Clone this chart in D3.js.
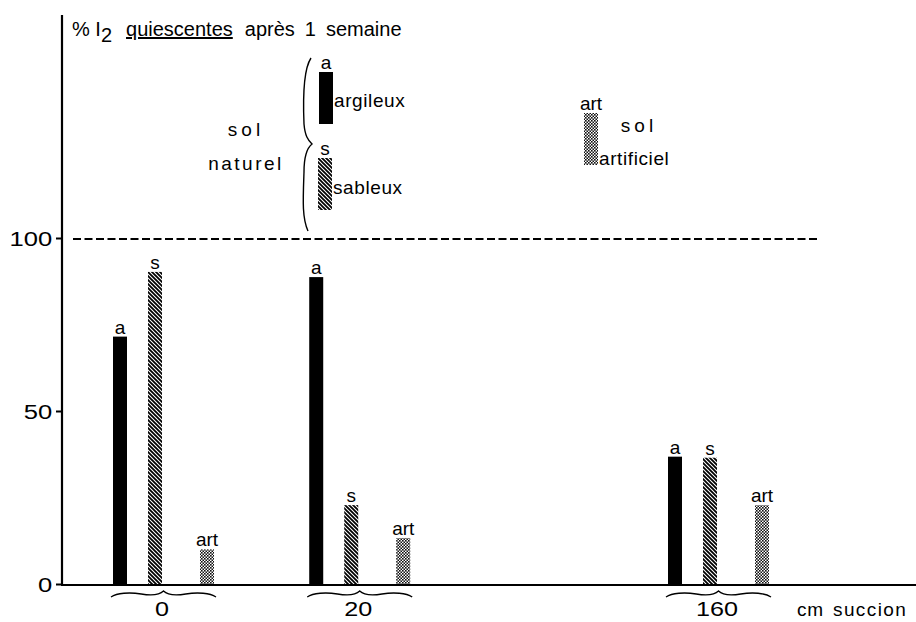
<!DOCTYPE html>
<html>
<head>
<meta charset="utf-8">
<script src="https://cdn.jsdelivr.net/npm/d3@7/dist/d3.min.js"></script>
<style>
  html, body { margin: 0; padding: 0; background: #fff; }
  svg { display: block; }
  text { font-family: "Liberation Sans", Arial, "DejaVu Sans", sans-serif; fill: #000; }
</style>
</head>
<body>
<svg id="chart" width="916" height="622"></svg>
<script>
// Suction levels (cm) and share of quiescent I2 after one week (%)
const succion = [0, 20, 160];
const succionLabels = ["0", "20", "160"];
const argileux = [71.5, 88.7, 36.8];
const sableux = [90.2, 22.8, 36.5];
const artificiel = [10.0, 13.3, 22.8];
const seriesKeys = ["a", "s", "art"];
const yTicks = [0, 50, 100];

const svg = d3.select("#chart");
const W = 916;

// Fill patterns: solid, diagonal hatch, fine checker
const defs = svg.append("defs");
const hatch = defs.append("pattern")
  .attr("id", "hatch").attr("patternUnits", "userSpaceOnUse")
  .attr("width", 4).attr("height", 4);
hatch.append("rect").attr("width", 4).attr("height", 4).attr("fill", "#fff");
hatch.append("path")
  .attr("d", "M-1,-1 L5,5 M-1,3 L1,5 M3,-1 L5,1")
  .attr("stroke", "#000").attr("stroke-width", 1.8);

const checker = defs.append("pattern")
  .attr("id", "checker").attr("patternUnits", "userSpaceOnUse")
  .attr("width", 3).attr("height", 3);
checker.append("rect").attr("width", 3).attr("height", 3).attr("fill", "#fff");
checker.append("rect").attr("width", 1.6).attr("height", 1.6).attr("fill", "#111");
checker.append("rect").attr("x", 1.5).attr("y", 1.5).attr("width", 1.5).attr("height", 1.5).attr("fill", "#111");

const fills = { a: "#000", s: "url(#hatch)", art: "url(#checker)" };

// Scales
const y = d3.scaleLinear().domain([0, 100]).range([584, 238]);
const x = d3.scaleSqrt().domain([0, 160]).range([163, 718]);
const offset = d3.scaleOrdinal().domain(seriesKeys).range([-50, -15, 37]);
const barW = 14;

// Text placed through a group so it can be stretched horizontally
function label(px, py, str, opts = {}) {
  const g = svg.append("g")
    .attr("transform", `translate(${px},${py}) scale(${opts.sx || 1},1)`);
  const t = g.append("text")
    .attr("text-anchor", opts.anchor || "start")
    .attr("font-size", opts.size || 20)
    .text(str);
  if (opts.ls) t.attr("letter-spacing", opts.ls);
  if (opts.ws) t.attr("word-spacing", opts.ws);
  return t;
}

// Axes
const axisX0 = 62;
svg.append("line").attr("x1", axisX0).attr("x2", axisX0)
  .attr("y1", 15).attr("y2", y(0) + 1)
  .attr("stroke", "#000").attr("stroke-width", 2.2);
svg.append("line").attr("x1", axisX0 - 1).attr("x2", W)
  .attr("y1", y(0) + 1).attr("y2", y(0) + 1)
  .attr("stroke", "#000").attr("stroke-width", 2.2);

const yAxis = d3.axisLeft(y).tickValues(yTicks).tickSize(6).tickPadding(2);
const gy = svg.append("g").attr("transform", `translate(${axisX0},0)`).call(yAxis);
gy.select(".domain").remove();
gy.attr("font-family", null).attr("font-size", null);
gy.selectAll(".tick line").attr("stroke", "#000").attr("stroke-width", 2);
gy.selectAll(".tick text")
  .attr("font-size", 21).attr("fill", "#000").attr("dy", "0.36em")
  .attr("transform", "scale(1.22,1)");

// 100 % reference line
svg.append("line")
  .attr("x1", 73).attr("x2", 817)
  .attr("y1", y(100) + 1).attr("y2", y(100) + 1)
  .attr("stroke", "#000").attr("stroke-width", 1.8)
  .attr("stroke-dasharray", "8,3.5");

// Bars
const rows = [];
succion.forEach((s, i) => {
  rows.push({ cat: s, key: "a", v: argileux[i] });
  rows.push({ cat: s, key: "s", v: sableux[i] });
  rows.push({ cat: s, key: "art", v: artificiel[i] });
});

svg.append("g").selectAll("rect").data(rows).join("rect")
  .attr("x", d => x(d.cat) + offset(d.key))
  .attr("y", d => y(d.v))
  .attr("width", barW)
  .attr("height", d => y(0) - y(d.v))
  .attr("fill", d => fills[d.key]);

svg.append("g").selectAll("text").data(rows).join("text")
  .attr("x", d => x(d.cat) + offset(d.key) + barW / 2)
  .attr("y", d => y(d.v) - 3)
  .attr("text-anchor", "middle")
  .attr("font-size", 19)
  .text(d => d.key);

// Underbraces and category labels
function underbrace(x0, x1, yb) {
  const m = (x0 + x1) / 2, q = (x1 - x0) / 4;
  return `M${x0},${yb + 4} C${x0 + 6},${yb} ${x0 + q - 8},${yb - 1} ${x0 + q + 4},${yb + 1}` +
    ` C${m - 10},${yb + 3} ${m - 4},${yb + 2} ${m},${yb - 2}` +
    ` C${m + 4},${yb + 2} ${m + 10},${yb + 3} ${x1 - q - 4},${yb + 1}` +
    ` C${x1 - q + 8},${yb - 1} ${x1 - 6},${yb} ${x1},${yb + 4}`;
}
succion.forEach((s, i) => {
  const x0 = x(s) + offset("a") - 2, x1 = x(s) + offset("art") + barW + 2;
  svg.append("path").attr("d", underbrace(x0, x1, 593))
    .attr("fill", "none").attr("stroke", "#000").attr("stroke-width", 1.3);
  label(x(s) - 1, 616, succionLabels[i], { size: 21, sx: 1.2, anchor: "middle" });
});
label(797, 616, "cm", { size: 19, ls: 0.8 });
label(833, 616, "succion", { size: 19, ls: 1.4 });

// Title
const title = label(72, 36, "", { size: 20 });
title.append("tspan").text("% I");
title.append("tspan").attr("dy", 6).text("2");
title.append("tspan").attr("dy", -6).attr("dx", 14).attr("text-decoration", "underline").text("quiescentes");
title.append("tspan").attr("dx", 12).text("après");
title.append("tspan").attr("dx", 10).text("1");
title.append("tspan").attr("dx", 10).text("semaine");

// Legend: natural soils
svg.append("path")
  .attr("d", "M311,58 C303,70 303,100 304,124 C305,136 308,140 312,144 C307,148 304,156 304,172 C303,200 302,218 308,231")
  .attr("fill", "none").attr("stroke", "#000").attr("stroke-width", 1.4);
label(246, 136, "sol", { size: 19, ls: 4, anchor: "middle" });
label(246, 170, "naturel", { size: 19, ls: 2.5, anchor: "middle" });

const legend = [
  { key: "a", x: 319, y0: 72, y1: 124, label: "argileux", ly: 107 },
  { key: "s", x: 318, y0: 158, y1: 210, label: "sableux", ly: 194 },
  { key: "art", x: 584, y0: 113, y1: 165, label: "artificiel", ly: 165 }
];
legend.forEach(l => {
  svg.append("rect").attr("x", l.x).attr("y", l.y0)
    .attr("width", barW).attr("height", l.y1 - l.y0).attr("fill", fills[l.key]);
  label(l.x + barW / 2, l.y0 - 3, l.key, { size: 19, anchor: "middle" });
  label(l.x + barW + 1, l.ly, l.label, { size: 19, ls: 0.6 });
});
label(639, 132, "sol", { size: 19, ls: 4, anchor: "middle" });
</script>
</body>
</html>
